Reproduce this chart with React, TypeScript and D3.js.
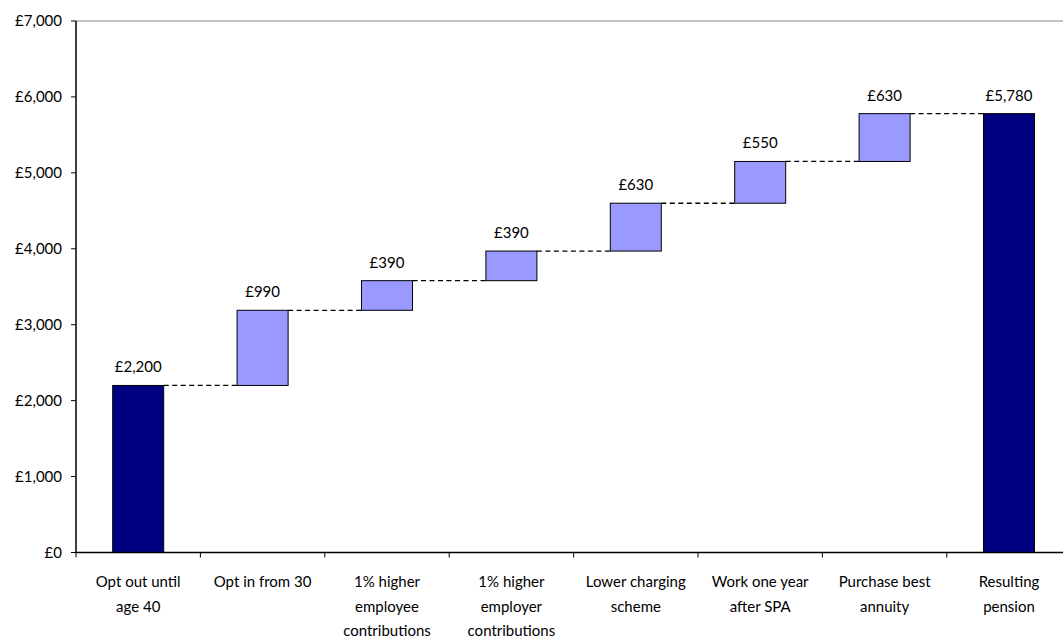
import React from "react";
import * as d3 from "d3";

// Waterfall of pension outcomes (annual pension, £)
const categories: string[][] = [
  ["Opt out until", "age 40"],
  ["Opt in from 30"],
  ["1% higher", "employee", "contributions"],
  ["1% higher", "employer", "contributions"],
  ["Lower charging", "scheme"],
  ["Work one year", "after SPA"],
  ["Purchase best", "annuity"],
  ["Resulting", "pension"],
];
const values: number[] = [2200, 990, 390, 390, 630, 550, 630, 5780];
const isTotal: boolean[] = [true, false, false, false, false, false, false, true];
const yTicks: number[] = [0, 1000, 2000, 3000, 4000, 5000, 6000, 7000];

const W = 1063;
const H = 639;
const left = 76;
const top = 21;
const bottom = 552.5;
const step = 124.4;
const FONT = "Lato, 'Open Sans', sans-serif";
const FS = 15;

export default function App() {
  const x = d3
    .scaleBand<number>()
    .domain(d3.range(categories.length))
    .range([left, left + step * categories.length])
    .paddingInner(0.59)
    .paddingOuter(0.295);
  const y = d3.scaleLinear().domain([0, 7000]).range([bottom, top]);
  const fmt = (v: number) => "£" + d3.format(",")(v);

  // running totals for floating bars
  let run = 0;
  const bars = values.map((v, i) => {
    let y0: number, y1: number;
    if (isTotal[i]) {
      y0 = 0;
      y1 = v;
      run = v;
    } else {
      y0 = run;
      y1 = run + v;
      run = y1;
    }
    return { i, v, y0, y1 };
  });

  const bw = x.bandwidth();
  const right = left + step * categories.length;

  return (
    <svg
      width={W}
      height={H}
      style={{ position: "absolute", left: 0, top: 0, background: "#fff" }}
      fontFamily={FONT}
    >
      {/* top frame line */}
      <line x1={left} x2={right} y1={top} y2={top} stroke="#888" strokeWidth={1} />

      {/* connectors */}
      {bars.slice(0, -1).map((b, k) => {
        const next = bars[k + 1];
        const x1 = (x(b.i) as number) + bw;
        const x2 = x(next.i) as number;
        return (
          <line
            key={"c" + k}
            x1={x1}
            x2={x2}
            y1={y(b.y1)}
            y2={y(b.y1)}
            stroke="#000"
            strokeWidth={1.3}
            strokeDasharray="5,3.5"
          />
        );
      })}

      {/* bars */}
      {bars.map((b) => (
        <rect
          key={"b" + b.i}
          x={x(b.i)}
          y={y(b.y1)}
          width={bw}
          height={y(b.y0) - y(b.y1)}
          fill={isTotal[b.i] ? "#000080" : "#9999FF"}
          stroke="#000"
          strokeWidth={1}
        />
      ))}

      {/* value labels */}
      {bars.map((b) => (
        <text
          key={"v" + b.i}
          x={(x(b.i) as number) + bw / 2}
          y={y(b.y1) - 13}
          textAnchor="middle"
          fontSize={FS}
          fill="#000"
        >
          {fmt(b.v)}
        </text>
      ))}

      {/* y axis */}
      <line x1={left} x2={left} y1={top} y2={bottom} stroke="#000" strokeWidth={1.5} />
      {yTicks.map((t) => (
        <g key={"y" + t}>
          <line x1={left - 5} x2={left} y1={y(t)} y2={y(t)} stroke="#000" strokeWidth={1} />
          <text x={left - 14} y={y(t) + 5} textAnchor="end" fontSize={FS} fill="#000">
            {fmt(t)}
          </text>
        </g>
      ))}

      {/* x axis */}
      <line x1={left} x2={right} y1={bottom} y2={bottom} stroke="#000" strokeWidth={1.5} />
      {d3.range(categories.length + 1).map((k) => (
        <line
          key={"xt" + k}
          x1={left + k * step}
          x2={left + k * step}
          y1={bottom}
          y2={bottom + 5}
          stroke="#000"
          strokeWidth={1}
        />
      ))}
      {categories.map((lines, i) => (
        <text
          key={"xl" + i}
          x={(x(i) as number) + bw / 2}
          textAnchor="middle"
          fontSize={FS}
          fill="#000"
        >
          {lines.map((ln, j) => (
            <tspan key={j} x={(x(i) as number) + bw / 2} y={587 + j * 24.5}>
              {ln}
            </tspan>
          ))}
        </text>
      ))}
    </svg>
  );
}
